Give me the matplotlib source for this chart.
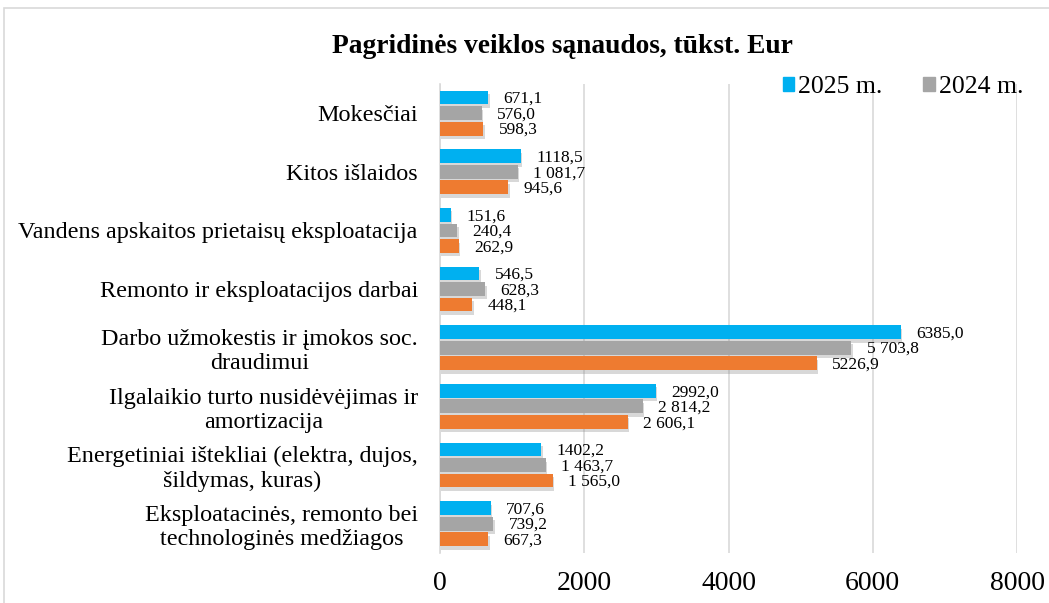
import matplotlib.pyplot as plt
import matplotlib.patheffects as pe
from matplotlib.patches import Patch, Rectangle
import numpy as np

plt.rcParams['font.family'] = ['Liberation Serif', 'DejaVu Serif']

# Duomenys (nuo viršaus į apačią)
kategorijos = [
    "Mokesčiai",
    "Kitos išlaidos",
    "Vandens apskaitos prietaisų eksploatacija",
    "Remonto ir eksploatacijos darbai",
    "Darbo užmokestis ir įmokos soc.\ndraudimui",
    "Ilgalaikio turto nusidėvėjimas ir\namortizacija",
    "Energetiniai ištekliai (elektra, dujos,\nšildymas, kuras)",
    "Eksploatacinės, remonto bei\ntechnologinės medžiagos",
]
metai = ["2025 m.", "2024 m.", "2023 m."]
v2025 = [671.1, 1118.5, 151.6, 546.5, 6385.0, 2992.0, 1402.2, 707.6]
v2024 = [576.0, 1081.7, 240.4, 628.3, 5703.8, 2814.2, 1463.7, 739.2]
v2023 = [598.3, 945.6, 262.9, 448.1, 5226.9, 2606.1, 1565.0, 667.3]
z2025 = ["671,1", "1118,5", "151,6", "546,5", "6385,0", "2992,0", "1402,2", "707,6"]
z2024 = ["576,0", "1 081,7", "240,4", "628,3", "5 703,8", "2 814,2", "1 463,7", "739,2"]
z2023 = ["598,3", "945,6", "262,9", "448,1", "5226,9", "2 606,1", "1 565,0", "667,3"]
spalvos = ["#00B0F0", "#A5A5A5", "#EE7B30"]

fig = plt.figure(figsize=(10.49, 6.03), dpi=100)
ax = fig.add_axes([0.4195, 0.083, 0.55, 0.778])

# rėmelis aplink diagramą
fig.patches.append(Rectangle((4 / 1049, -0.1), 2, (603 - 8) / 603 + 0.1,
                             transform=fig.transFigure, fill=False,
                             edgecolor="#D9D9D9", linewidth=1.2))

y = np.arange(len(kategorijos))
aukstis = 0.235
poslinkiai = [-0.265, 0.0, 0.265]
serijos = [(v2025, z2025), (v2024, z2024), (v2023, z2023)]
seselis = [pe.SimplePatchShadow(offset=(1, -2.5), shadow_rgbFace="#808080", alpha=0.3), pe.Normal()]

for (vals, zymes), off, sp in zip(serijos, poslinkiai, spalvos):
    bars = ax.barh(y + off, vals, height=aukstis, color=sp, zorder=3)
    for b in bars:
        b.set_path_effects(seselis)
    for yy, v, t in zip(y + off, vals, zymes):
        ax.annotate(t, (v, yy), xytext=(11, -1), textcoords="offset points",
                    ha="left", va="center", fontsize=12.5, zorder=4)

ax.set_xlim(0, 8000)
ax.set_ylim(len(kategorijos) - 0.5, -0.5)
ax.set_xticks([0, 2000, 4000, 6000, 8000])
ax.set_yticks(y)
ax.set_yticklabels(kategorijos)
for t in ax.get_yticklabels():
    t.set_multialignment("center")
ax.tick_params(axis="y", length=0, pad=16, labelsize=17.4)
ax.tick_params(axis="x", length=0, pad=13, labelsize=20)
ax.grid(axis="x", color="#D9D9D9", linewidth=1.2, zorder=0)
for s in ["top", "right", "bottom"]:
    ax.spines[s].set_visible(False)
ax.spines["left"].set_color("#D9D9D9")
ax.spines["left"].set_linewidth(1.2)

fig.text(0.536, 0.923, "Pagridinės veiklos sąnaudos, tūkst. Eur",
         ha="center", va="center", fontsize=19.8, fontweight="bold")

rankenos = [Patch(color=spalvos[0], label=metai[0]), Patch(color=spalvos[1], label=metai[1])]
fig.legend(handles=rankenos, loc="center left", bbox_to_anchor=(0.746, 0.855),
           ncol=2, frameon=False, fontsize=18.5, handlelength=0.45, handleheight=0.45,
           handletextpad=0.15, columnspacing=1.6, borderaxespad=0, borderpad=0)

fig.savefig("out.png", dpi=100)
